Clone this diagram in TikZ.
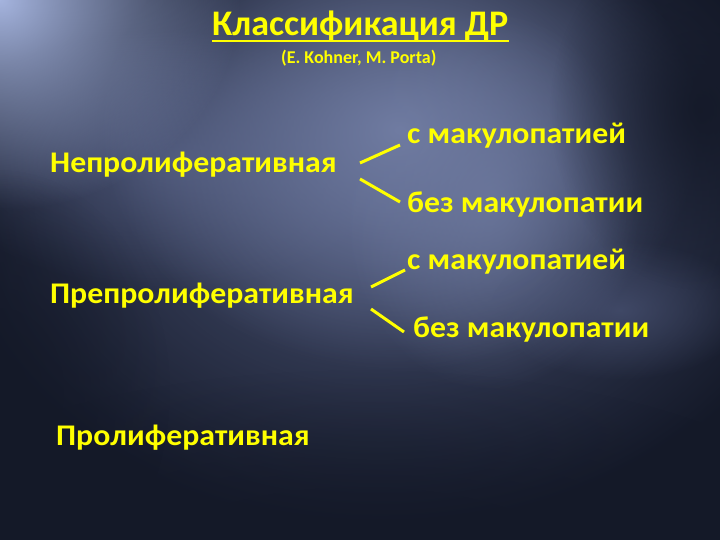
\documentclass[tikz,border=0pt]{standalone}
\usepackage{fontspec}
\setmainfont{Carlito}
\newfontfamily\lblfont{Carlito}[FakeStretch=1.06]
\usetikzlibrary{fadings}
\tikzfading[name=myglow, inner color=transparent!0, outer color=transparent!100]
\definecolor{bgbase}{RGB}{20,25,40}
\definecolor{glowA}{RGB}{112,124,162}
\definecolor{glowB}{RGB}{165,180,222}
\definecolor{glowC}{RGB}{80,90,125}
\definecolor{txtyellow}{RGB}{255,255,0}
\begin{document}
\begin{tikzpicture}[x=1pt,y=-1pt,
  lbl/.style={anchor=base west,inner sep=0pt,text=txtyellow,font=\lblfont\bfseries\fontsize{30}{34}\selectfont},
  ttl/.style={anchor=base west,inner sep=0pt,text=txtyellow,font=\bfseries\fontsize{36}{40}\selectfont},
  sub/.style={anchor=base west,inner sep=0pt,text=txtyellow,font=\bfseries\fontsize{18}{20}\selectfont},
  link/.style={draw=txtyellow,line width=3pt},
  uline/.style={draw=txtyellow,line width=2.5pt}]
\useasboundingbox (0,0) rectangle (720,540);
% background
\fill[bgbase] (0,0) rectangle (720,540);
\begin{scope}
\clip (0,0) rectangle (720,540);
\fill[glowC,path fading=myglow,fill opacity=0.9] (380,200) ellipse[x radius=440,y radius=330];
\fill[glowC,path fading=myglow,fill opacity=0.8] (170,160) ellipse[x radius=240,y radius=130];
\fill[glowA,path fading=myglow] (400,130) ellipse[x radius=300,y radius=240];
\fill[glowA,path fading=myglow,fill opacity=0.7] (490,200) ellipse[x radius=150,y radius=190];
\fill[glowC,path fading=myglow,fill opacity=0.6] (620,310) ellipse[x radius=130,y radius=70];
\fill[glowB,path fading=myglow] (0,0) ellipse[x radius=240,y radius=210];
\fill[bgbase,path fading=myglow,fill opacity=0.9] (700,110) ellipse[x radius=150,y radius=180];
\fill[bgbase,path fading=myglow,fill opacity=0.9] (360,580) ellipse[x radius=520,y radius=210];
\fill[bgbase,path fading=myglow,fill opacity=0.8] (0,390) ellipse[x radius=170,y radius=220];
\end{scope}
% texts
\node[ttl] (title) at (212,36) {Классификация ДР};
\draw[uline] ([yshift=-5pt]title.base west) -- ([yshift=-5pt]title.base east);
\node[sub] (authors) at (281,64) {(E. Kohner, M. Porta)};
\node[lbl] (np) at (50,173) {Непролиферативная};
\node[lbl] (np1) at (407,144) {с макулопатией};
\node[lbl] (np2) at (407,212) {без макулопатии};
\node[lbl] (pp) at (50,303) {Препролиферативная};
\node[lbl] (pp1) at (407,269) {с макулопатией};
\node[lbl] (pp2) at (413,337) {без макулопатии};
\node[lbl] (pr) at (56,445) {Пролиферативная};
% connectors
\coordinate (a1) at (360,163); \coordinate (a2) at (400,145);
\coordinate (b1) at (360,179); \coordinate (b2) at (400,202);
\coordinate (c1) at (371,287); \coordinate (c2) at (405,270);
\coordinate (d1) at (371,309); \coordinate (d2) at (404,332);
\draw[link] (a1) -- (a2);
\draw[link] (b1) -- (b2);
\draw[link] (c1) -- (c2);
\draw[link] (d1) -- (d2);
\end{tikzpicture}
\end{document}
